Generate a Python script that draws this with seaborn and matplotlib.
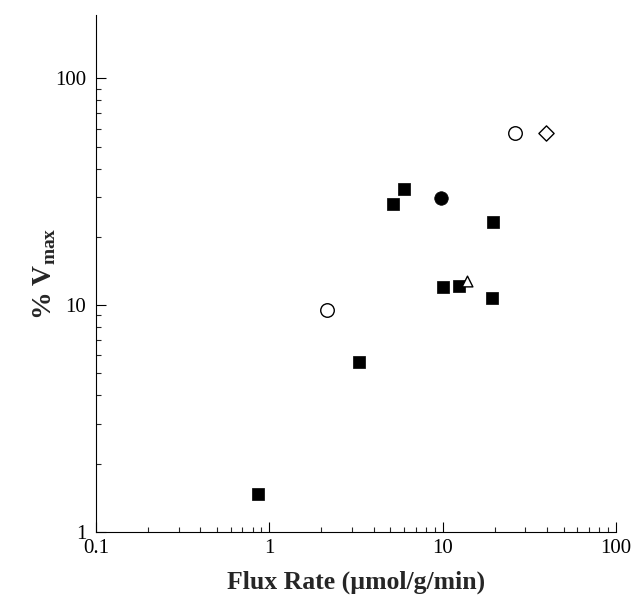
import numpy as np
import pandas as pd
import matplotlib
matplotlib.use("Agg")
import matplotlib.pyplot as plt
import seaborn as sns

# values (log-log)
sq_flux = [0.86, 3.3, 5.15, 5.95, 10.1, 12.5, 19.4, 19.5]
sq_vmax = [1.47, 5.6, 28.0, 32.4, 12.0, 12.1, 10.8, 23.2]

open_circle_flux = [2.14, 26.2]
open_circle_vmax = [9.5, 57.2]

filled_circle_flux = [9.8]
filled_circle_vmax = [29.8]

triangle_flux = [13.9]
triangle_vmax = [12.8]

diamond_flux = [39.5]
diamond_vmax = [57.6]

xticks = [0.1, 1, 10, 100]
xtick_labels = ["0.1", "1", "10", "100"]
yticks = [1, 10, 100]
ytick_labels = ["1", "10", "100"]

sns.set_style("ticks")
plt.rcParams['font.family'] = ['Liberation Serif', 'DejaVu Serif']
plt.rcParams['mathtext.fontset'] = 'custom'
plt.rcParams['mathtext.rm'] = 'Liberation Serif'
plt.rcParams['mathtext.bf'] = 'Liberation Serif:bold'

fig = plt.figure(figsize=(6.33, 6.04), dpi=100)
ax = fig.add_axes([0.1517, 0.1192, 0.8213, 0.8560])

sns.scatterplot(x=sq_flux, y=sq_vmax, marker='s', s=72, color='black',
                edgecolor='black', linewidth=0.5, ax=ax)
sns.scatterplot(x=open_circle_flux, y=open_circle_vmax, marker='o', s=95,
                facecolor='white', edgecolor='black', linewidth=1.0, ax=ax)
sns.scatterplot(x=filled_circle_flux, y=filled_circle_vmax, marker='o', s=95,
                color='black', edgecolor='black', linewidth=0.5, ax=ax)
sns.scatterplot(x=triangle_flux, y=triangle_vmax, marker='^', s=60,
                facecolor='white', edgecolor='black', linewidth=1.0, ax=ax)
sns.scatterplot(x=diamond_flux, y=diamond_vmax, marker='D', s=60,
                facecolor='white', edgecolor='black', linewidth=1.0, ax=ax)

ax.set_xscale('log')
ax.set_yscale('log')
ax.set_xlim(0.1, 100)
ax.set_ylim(1, 190)

ax.set_xticks(xticks)
ax.set_xticklabels(xtick_labels)
ax.set_yticks(yticks)
ax.set_yticklabels(ytick_labels)

ax.tick_params(which='major', direction='in', length=7, width=0.8,
               labelsize=15, colors='black')
ax.tick_params(which='minor', direction='in', length=3.5, width=0.8)
ax.tick_params(axis='x', pad=5)
ax.tick_params(axis='y', pad=7)

sns.despine(ax=ax)
for sp in ['left', 'bottom']:
    ax.spines[sp].set_linewidth(0.8)
    ax.spines[sp].set_color('black')

ax.set_xlabel('Flux Rate (µmol/g/min)', fontsize=18.5, fontweight='bold',
              labelpad=9)
ax.set_ylabel(r'% V$_{\mathbf{max}}$', fontsize=20, fontweight='bold',
              labelpad=-2)

fig.savefig('out.png', dpi=100)
